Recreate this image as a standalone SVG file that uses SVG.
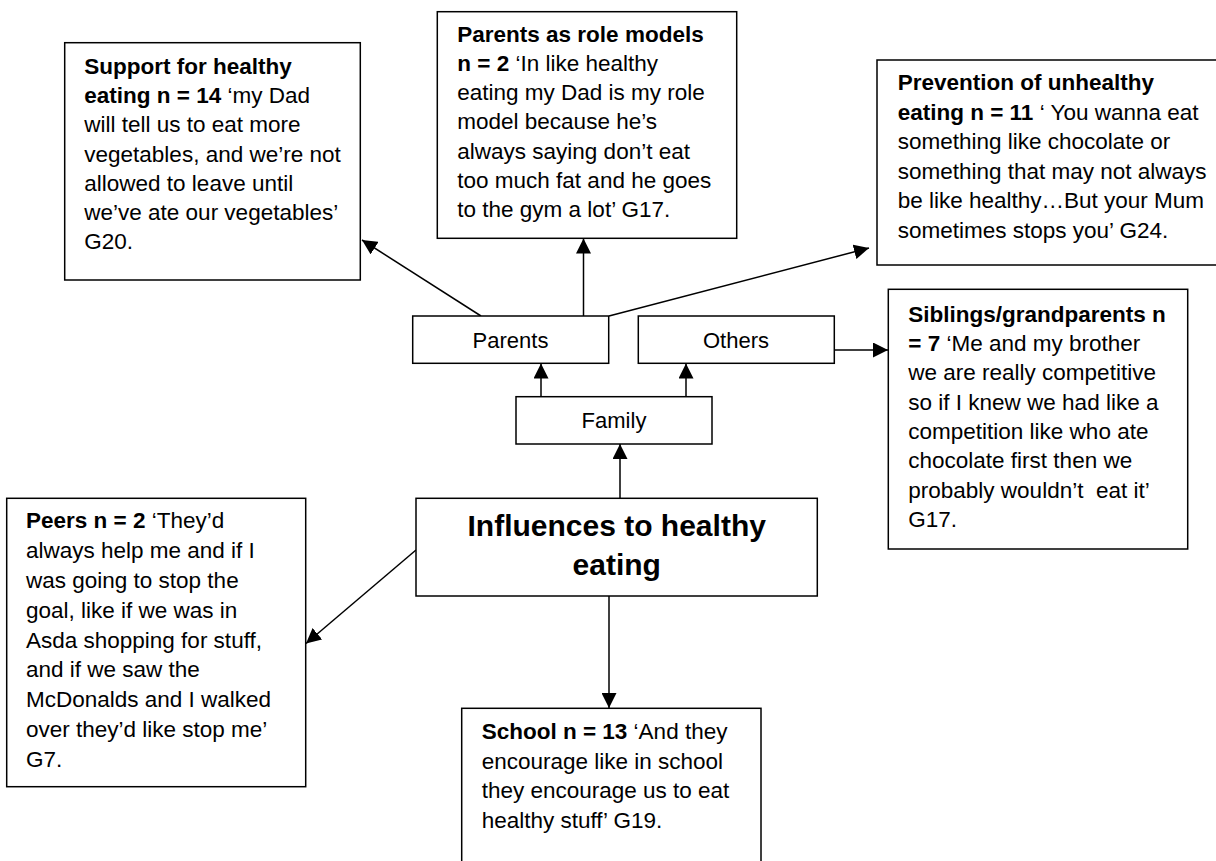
<svg xmlns="http://www.w3.org/2000/svg" width="1216" height="861" viewBox="0 0 1216 861">
<defs>
<style>
.box{fill:#fff;stroke:#000;stroke-width:1.5}
.t{font-family:"Liberation Sans",Arial,Helvetica,sans-serif;font-size:22.5px;fill:#000;white-space:pre}
.b{font-weight:bold}
.lbl{font-family:"Liberation Sans",Arial,Helvetica,sans-serif;font-size:22px;fill:#000;text-anchor:middle}
.main{font-family:"Liberation Sans",Arial,Helvetica,sans-serif;font-size:30px;font-weight:bold;fill:#000;text-anchor:middle}
.c{stroke:#000;stroke-width:1.5;fill:none;marker-end:url(#ah)}
</style>
<marker id="ah" markerUnits="userSpaceOnUse" markerWidth="15" markerHeight="15" refX="15" refY="7.5" orient="auto">
<path d="M0,0 L15,7.5 L0,15 z" fill="#000"/>
</marker>
</defs>
<rect width="1216" height="861" fill="#fff"/>

<g id="connectors">
<line class="c" x1="620" y1="498" x2="620" y2="444"/>
<line class="c" x1="541" y1="397" x2="541" y2="363.5"/>
<line class="c" x1="686" y1="397" x2="686" y2="363.5"/>
<line class="c" x1="481" y1="316" x2="362" y2="240"/>
<line class="c" x1="583.5" y1="316" x2="583.5" y2="238.5"/>
<line class="c" x1="609" y1="316" x2="869" y2="248"/>
<line class="c" x1="834" y1="350" x2="888" y2="350"/>
<line class="c" x1="416" y1="550" x2="306" y2="643.5"/>
<line class="c" x1="609" y1="596" x2="609" y2="708"/>
</g>

<g id="support">
<rect class="box" x="64.7" y="42.7" width="295.6" height="237.3"/>
<text class="t" x="84.3" y="74"><tspan class="b">Support for healthy</tspan></text>
<text class="t" x="84.3" y="103.2"><tspan class="b">eating n = 14</tspan> ‘my Dad</text>
<text class="t" x="84.3" y="132.4">will tell us to eat more</text>
<text class="t" x="84.3" y="161.6">vegetables, and we’re not</text>
<text class="t" x="84.3" y="190.8">allowed to leave until</text>
<text class="t" x="84.3" y="220">we’ve ate our vegetables’</text>
<text class="t" x="84.3" y="249.2">G20.</text>
</g>

<g id="role-models">
<rect class="box" x="437.3" y="11.7" width="299.4" height="226.6"/>
<text class="t" x="457.3" y="41.7"><tspan class="b">Parents as role models</tspan></text>
<text class="t" x="457.3" y="70.9"><tspan class="b">n = 2</tspan> ‘In like healthy</text>
<text class="t" x="457.3" y="100.1">eating my Dad is my role</text>
<text class="t" x="457.3" y="129.3">model because he’s</text>
<text class="t" x="457.3" y="158.5">always saying don’t eat</text>
<text class="t" x="457.3" y="187.7">too much fat and he goes</text>
<text class="t" x="457.3" y="216.9">to the gym a lot’ G17.</text>
</g>

<g id="prevention">
<rect class="box" x="877" y="60" width="345" height="205"/>
<text class="t" x="897.7" y="90"><tspan class="b">Prevention of unhealthy</tspan></text>
<text class="t" x="897.7" y="119.5"><tspan class="b">eating n = 11</tspan> ‘ You wanna eat</text>
<text class="t" x="897.7" y="149">something like chocolate or</text>
<text class="t" x="897.7" y="178.5">something that may not always</text>
<text class="t" x="897.7" y="208">be like healthy…But your Mum</text>
<text class="t" x="897.7" y="237.5">sometimes stops you’ G24.</text>
</g>

<g id="parents">
<rect class="box" x="412.7" y="316" width="196" height="47.3"/>
<text class="lbl" x="510.5" y="347.7">Parents</text>
</g>

<g id="others">
<rect class="box" x="638.3" y="316" width="196" height="47.3"/>
<text class="lbl" x="736" y="347.7">Others</text>
</g>

<g id="family">
<rect class="box" x="516" y="396.7" width="196" height="47.3"/>
<text class="lbl" x="614" y="428.3">Family</text>
</g>

<g id="siblings">
<rect class="box" x="888.3" y="289.3" width="299.4" height="259.7"/>
<text class="t" x="908.3" y="321.7"><tspan class="b">Siblings/grandparents n</tspan></text>
<text class="t" x="908.3" y="351"><tspan class="b">= 7</tspan> ‘Me and my brother</text>
<text class="t" x="908.3" y="380.3">we are really competitive</text>
<text class="t" x="908.3" y="409.6">so if I knew we had like a</text>
<text class="t" x="908.3" y="438.9">competition like who ate</text>
<text class="t" x="908.3" y="468.2">chocolate first then we</text>
<text class="t" x="908.3" y="497.5">probably wouldn’t  eat it’</text>
<text class="t" x="908.3" y="526.8">G17.</text>
</g>

<g id="main">
<rect class="box" x="416" y="498.3" width="401.3" height="97.7"/>
<text class="main" x="616.7" y="536">Influences to healthy</text>
<text class="main" x="616.7" y="575">eating</text>
</g>

<g id="peers">
<rect class="box" x="6.7" y="498.3" width="299" height="288.4"/>
<text class="t" x="26" y="528.3"><tspan class="b">Peers n = 2</tspan> ‘They’d</text>
<text class="t" x="26" y="558.1">always help me and if I</text>
<text class="t" x="26" y="587.9">was going to stop the</text>
<text class="t" x="26" y="617.7">goal, like if we was in</text>
<text class="t" x="26" y="647.5">Asda shopping for stuff,</text>
<text class="t" x="26" y="677.3">and if we saw the</text>
<text class="t" x="26" y="707.1">McDonalds and I walked</text>
<text class="t" x="26" y="736.9">over they’d like stop me’</text>
<text class="t" x="26" y="766.7">G7.</text>
</g>

<g id="school">
<rect class="box" x="461.7" y="708.3" width="299.3" height="170"/>
<text class="t" x="481.7" y="739.3"><tspan class="b">School n = 13</tspan> ‘And they</text>
<text class="t" x="481.7" y="768.8">encourage like in school</text>
<text class="t" x="481.7" y="798.3">they encourage us to eat</text>
<text class="t" x="481.7" y="827.8">healthy stuff’ G19.</text>
</g>
</svg>
